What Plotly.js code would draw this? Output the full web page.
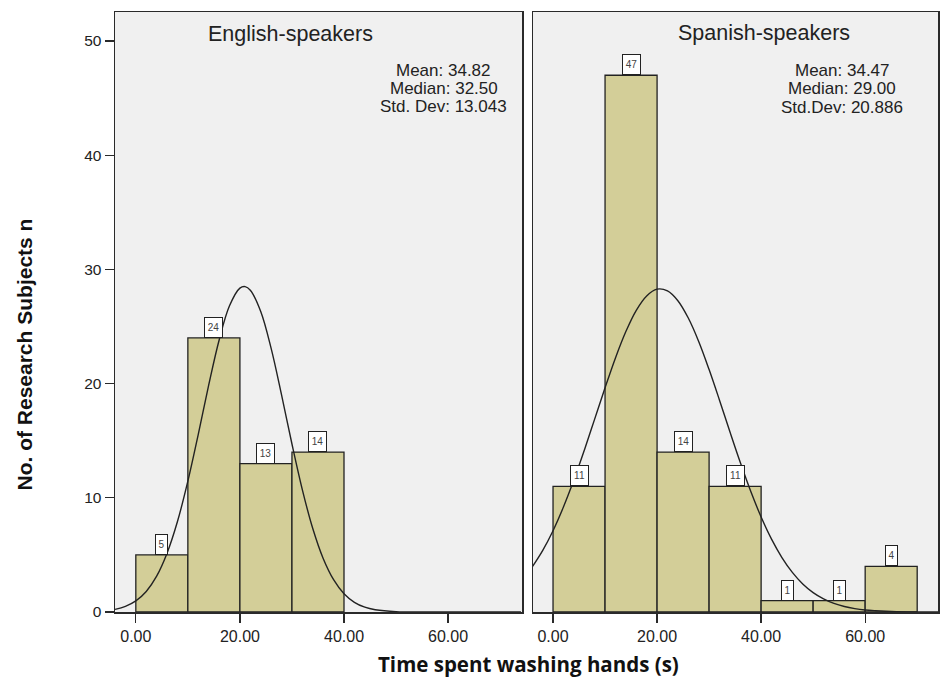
<!DOCTYPE html>
<html>
<head>
<meta charset="utf-8">
<script src="https://cdn.plot.ly/plotly-3.0.1.min.js"></script>
<style>
  html, body { margin: 0; padding: 0; background: #ffffff; }
  #chart { width: 940px; height: 679px; }
</style>
</head>
<body>
<div id="chart"></div>
<script>
// ---- Data ----
const binCenters = [5, 15, 25, 35, 45, 55, 65];
const binWidth = 10;
const englishCounts = [5, 24, 13, 14];
const spanishCounts = [11, 47, 14, 11, 1, 1, 4];

const panelTitles = ["English-speakers", "Spanish-speakers"];
const englishStats = ["Mean: 34.82", "Median: 32.50", "Std. Dev: 13.043"];
const spanishStats = ["Mean: 34.47", "Median: 29.00", "Std.Dev: 20.886"];

// Normal curves
const englishCurveX = [-4, -2, 0, 2, 4, 6, 8, 10, 12, 14, 16, 18, 20, 21, 22, 24, 26, 28, 30, 32, 34, 36, 38, 40, 42, 44, 46, 50, 56, 74];
const englishCurveY = [0.23, 0.49, 0.97, 1.80, 3.14, 5.15, 7.92, 11.46, 15.56, 19.86, 23.80, 26.81, 28.36, 28.49, 28.18, 26.31, 23.08, 19.01, 14.71, 10.70, 7.31, 4.69, 2.83, 1.60, 0.85, 0.42, 0.20, 0.03, 0, 0];
const spanishCurveX = [-4, -2, 0, 2, 4, 6, 8, 10, 12, 14, 16, 18, 20, 22, 24, 26, 28, 30, 32, 34, 36, 38, 40, 42, 44, 46, 48, 50, 52, 54, 56, 58, 60, 62, 64, 66, 70, 74];
const spanishCurveY = [3.95, 5.38, 7.12, 9.19, 11.55, 14.15, 16.89, 19.63, 22.25, 24.56, 26.42, 27.68, 28.27, 28.12, 27.26, 25.74, 23.69, 21.23, 18.55, 15.78, 13.09, 10.57, 8.32, 6.38, 4.77, 3.47, 2.46, 1.70, 1.15, 0.75, 0.48, 0.30, 0.18, 0.11, 0.06, 0.03, 0.01, 0];

const yTickVals = [0, 10, 20, 30, 40, 50];
const xTickVals = [0, 20, 40, 60];
const xTickText = ["0.00", "20.00", "40.00", "60.00"];
const yAxisTitle = "No. of Research Subjects n";
const xAxisTitle = "Time spent washing hands (s)";

// ---- Styling ----
const barColor = "#D3CE98";
const lineColor = "#222222";
const frameColor = "#2a2a2a";
const arial = "Liberation Sans, Arial, sans-serif";

const W = 940, H = 679;
const M = { l: 115, r: 2, t: 12, b: 67 };
const plotW = W - M.l - M.r, plotH = H - M.t - M.b;
const px = x => (x - M.l) / plotW;
const py = y => (H - M.b - y) / plotH;

const traces = [
  {
    type: "bar", x: binCenters.slice(0, englishCounts.length), y: englishCounts,
    width: binWidth, xaxis: "x", yaxis: "y",
    marker: { color: barColor, line: { color: lineColor, width: 1.3 } },
    hoverinfo: "skip", showlegend: false
  },
  {
    type: "bar", x: binCenters.slice(0, spanishCounts.length), y: spanishCounts,
    width: binWidth, xaxis: "x2", yaxis: "y2",
    marker: { color: barColor, line: { color: lineColor, width: 1.3 } },
    hoverinfo: "skip", showlegend: false
  },
  {
    type: "scatter", mode: "lines", x: englishCurveX, y: englishCurveY,
    xaxis: "x", yaxis: "y", line: { color: lineColor, width: 1.4, shape: "spline" },
    hoverinfo: "skip", showlegend: false
  },
  {
    type: "scatter", mode: "lines", x: spanishCurveX, y: spanishCurveY,
    xaxis: "x2", yaxis: "y2", line: { color: lineColor, width: 1.4, shape: "spline" },
    hoverinfo: "skip", showlegend: false
  }
];

const annotations = [];
function countLabels(counts, xref, yref) {
  counts.forEach((c, i) => {
    const t = String(c);
    annotations.push({
      x: binCenters[i], y: c, xref: xref, yref: yref,
      text: t, showarrow: false, yanchor: "bottom", xanchor: "center",
      width: 3 + 6 * t.length, height: 17,
      font: { family: arial, size: 10, color: "#444" },
      bgcolor: "#ffffff", bordercolor: "#222", borderwidth: 1, borderpad: 1
    });
  });
}
countLabels(englishCounts, "x", "y");
countLabels(spanishCounts, "x2", "y2");

// Panel titles
annotations.push({ x: px(290.5), y: py(34), xref: "paper", yref: "paper", text: panelTitles[0],
  showarrow: false, xanchor: "center", yanchor: "middle", font: { family: arial, size: 21.5, color: "#222" } });
annotations.push({ x: px(764), y: py(33), xref: "paper", yref: "paper", text: panelTitles[1],
  showarrow: false, xanchor: "center", yanchor: "middle", font: { family: arial, size: 21.5, color: "#222" } });

// Stats
const leftStatY = [70, 88, 106.5];
const rightStatY = [70, 89, 107.5];
englishStats.forEach((s, i) => annotations.push({ x: px(443.5), y: py(leftStatY[i]), xref: "paper", yref: "paper",
  text: s, showarrow: false, xanchor: "center", yanchor: "middle", font: { family: arial, size: 17, color: "#222" } }));
spanishStats.forEach((s, i) => annotations.push({ x: px(842), y: py(rightStatY[i]), xref: "paper", yref: "paper",
  text: s, showarrow: false, xanchor: "center", yanchor: "middle", font: { family: arial, size: 17, color: "#222" } }));

// Axis titles
annotations.push({ x: px(24), y: py(354.5), xref: "paper", yref: "paper", text: yAxisTitle, textangle: -90,
  showarrow: false, xanchor: "center", yanchor: "middle", font: { family: arial, size: 21, color: "#111", weight: "bold" } });
annotations.push({ x: px(528), y: py(664), xref: "paper", yref: "paper", text: xAxisTitle,
  showarrow: false, xanchor: "center", yanchor: "middle", font: { family: "Open Sans, sans-serif", size: 20.5, color: "#111", weight: "bold" } });

const xCommon = {
  range: [-4.0, 74.2], tickmode: "array", tickvals: xTickVals, ticktext: xTickText,
  ticks: "outside", ticklen: 9, tickwidth: 1.3, tickcolor: frameColor,
  showline: true, linecolor: frameColor, linewidth: 1.5, mirror: true,
  showgrid: false, zeroline: false, fixedrange: true,
  tickfont: { family: arial, size: 16, color: "#222" }
};
const yCommon = {
  range: [0, 52.54], tickmode: "array", tickvals: yTickVals,
  showline: true, linecolor: frameColor, linewidth: 1.5, mirror: true,
  showgrid: false, zeroline: false, fixedrange: true,
  tickfont: { family: arial, size: 15.5, color: "#222" }
};

const layout = {
  width: W, height: H,
  margin: M,
  paper_bgcolor: "#ffffff",
  plot_bgcolor: "#F0F0F0",
  showlegend: false,
  bargap: 0,
  xaxis: Object.assign({}, xCommon, { domain: [0, px(522)], anchor: "y" }),
  xaxis2: Object.assign({}, xCommon, { domain: [px(533), 1], anchor: "y2", range: [-3.85, 74.0] }),
  yaxis: Object.assign({}, yCommon, { anchor: "x", ticks: "outside", ticklen: 9, tickwidth: 1.3, tickcolor: frameColor }),
  yaxis2: Object.assign({}, yCommon, { anchor: "x2", showticklabels: false, ticks: "" }),
  annotations: annotations
};

Plotly.newPlot("chart", traces, layout, { displayModeBar: false, staticPlot: true });
</script>
</body>
</html>
